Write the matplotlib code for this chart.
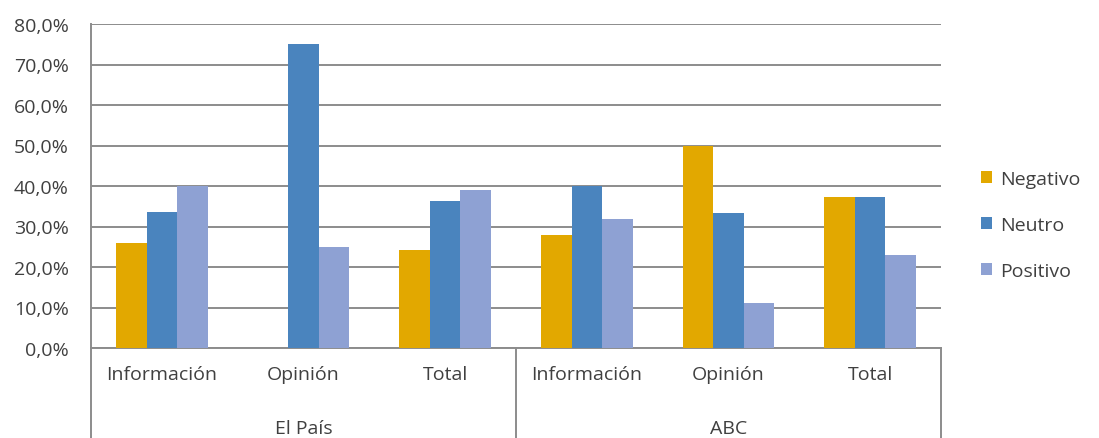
import matplotlib
matplotlib.use("Agg")
import matplotlib.pyplot as plt
import numpy as np
from matplotlib.lines import Line2D

plt.rcParams['font.family'] = ['Open Sans', 'DejaVu Sans']

groups = ["El País", "ABC"]
categories = ["Información", "Opinión", "Total", "Información", "Opinión", "Total"]
series = ["Negativo", "Neutro", "Positivo"]
negativo = [25.9, 0.0, 24.3, 27.8, 50.0, 37.2]
neutro = [33.7, 75.0, 36.3, 40.0, 33.3, 37.2]
positivo = [40.0, 25.0, 39.1, 31.8, 11.1, 22.9]
colors = ["#E2A800", "#4A84BE", "#8EA1D3"]
yticks = [0, 10, 20, 30, 40, 50, 60, 70, 80]

TXT = "#404040"
GRID = "#8C8C8C"
FS = 14

fig = plt.figure(figsize=(10.99, 4.39), dpi=100)
ax = fig.add_axes([91/1099, 90/439, 850/1099, 324/439])

x = np.arange(len(categories))
w = 0.215
for i, (vals, c, name) in enumerate(zip([negativo, neutro, positivo], colors, series)):
    ax.bar(x + (i - 1) * w, vals, width=w, color=c, label=name, zorder=3)

ax.set_xlim(-0.5, len(categories) - 0.5)
ax.set_ylim(0, 80)
ax.set_yticks(yticks)
ax.set_yticklabels([f"{v:.1f}%".replace(".", ",") for v in yticks], color=TXT, fontsize=FS)
ax.yaxis.grid(True, color=GRID, linewidth=1.4, zorder=0)
ax.set_axisbelow(True)
ax.tick_params(axis="y", length=0, pad=16)
ax.tick_params(axis="x", length=0, pad=12)
ax.set_xticks(x)
ax.set_xticklabels(categories, color=TXT, fontsize=FS)

for s in ["top", "right"]:
    ax.spines[s].set_visible(False)
for s in ["left", "bottom"]:
    ax.spines[s].set_color(GRID)
    ax.spines[s].set_linewidth(1.4)

# group box lines below the category axis
tr = ax.get_xaxis_transform()
for xv in [-0.5, 2.5, 5.5]:
    ax.add_line(Line2D([xv, xv], [0, -0.32], transform=tr, color=GRID,
                       linewidth=1.4, clip_on=False))
for gi, g in enumerate(groups):
    ax.text(gi * 3 + 1, -0.247, g, transform=tr, ha="center", va="center",
            color=TXT, fontsize=FS)

leg = ax.legend(loc="center left", bbox_to_anchor=(1.038, 0.38), frameon=False,
                fontsize=FS, handlelength=0.55, handleheight=0.55, handletextpad=0.45,
                labelspacing=1.43, borderaxespad=0)
for t in leg.get_texts():
    t.set_color(TXT)

fig.savefig("out.png", dpi=100)
